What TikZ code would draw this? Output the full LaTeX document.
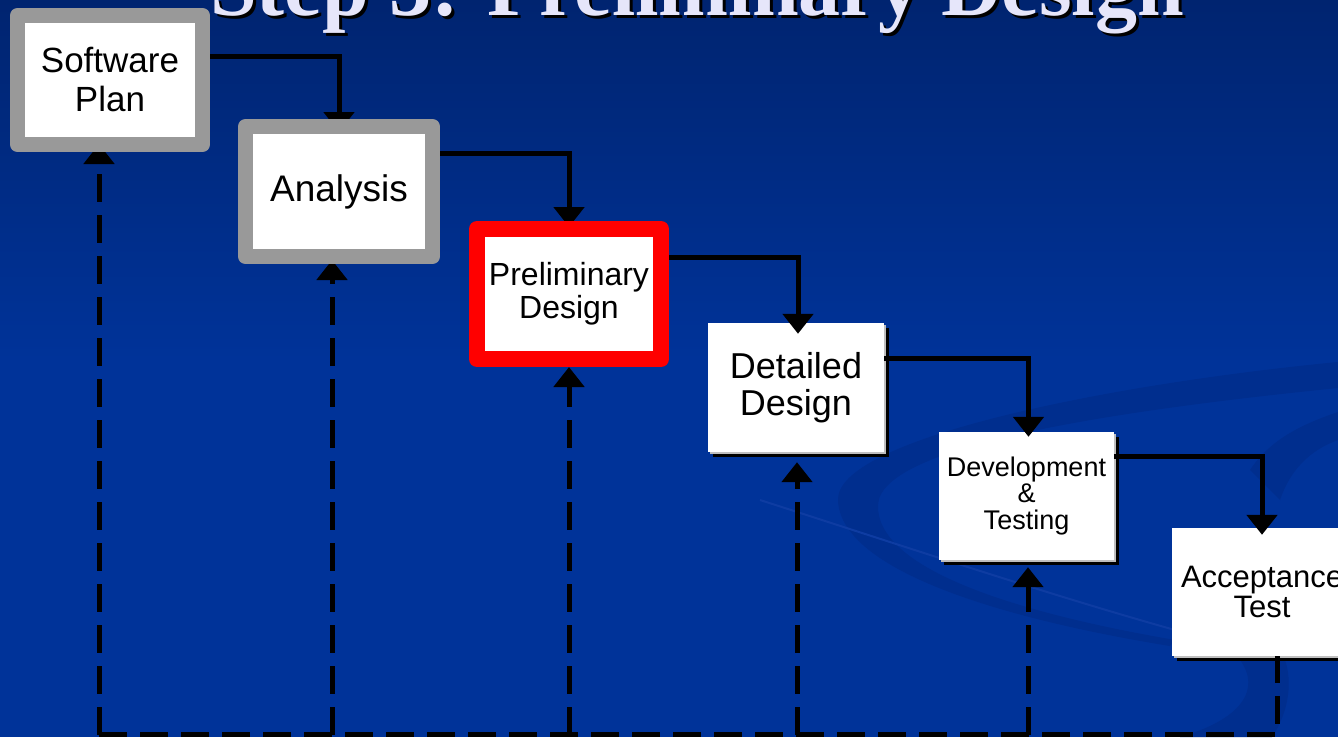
\documentclass[tikz,border=0pt]{standalone}
\usepackage{fontspec}
\setmainfont{Liberation Sans}
\newfontfamily\titlefont{Liberation Serif}
\usetikzlibrary{arrows.meta,shadows}
\pgfdeclarelayer{bg}
\pgfdeclarelayer{background}
\pgfsetlayers{bg,background,main}
\definecolor{bgtop}{RGB}{0,36,112}
\definecolor{bgbot}{RGB}{0,51,153}
\definecolor{swdark}{RGB}{0,46,142}
\definecolor{swlight}{RGB}{14,60,162}
\definecolor{framegray}{RGB}{153,153,153}
\definecolor{titlecol}{RGB}{230,230,250}
\begin{document}
\begin{tikzpicture}[x=1pt,y=-1pt,
  frame/.style={fill=white, line width=15pt, line join=round, inner sep=0pt, align=center},
  whitebox/.style={fill=white, inner sep=0pt, align=center,
    general shadow={fill=black, shadow xshift=5pt, shadow yshift=-5pt},
    general shadow={fill=black!25, shadow xshift=1.5pt, shadow yshift=-1.5pt}},
  flow/.style={line width=5pt, -{Triangle[width=30pt,length=20pt]}},
  fb/.style={line width=5pt, dash pattern=on 27.5pt off 13.5pt, -{Triangle[width=30pt,length=20pt]}},
  fbline/.style={line width=5pt, dash pattern=on 27.5pt off 13.5pt},
]
\useasboundingbox (0,0) rectangle (1338,737);
\clip (0,0) rectangle (1338,737);

% background
\begin{pgfonlayer}{bg}
\shade[top color=bgtop, bottom color=bgbot] (0,0) rectangle (1338,360);
\fill[bgbot] (0,359) rectangle (1338,737);
\fill[swdark] (838,500) .. controls (836,440) and (1100,385) .. (1338,362)
  -- (1338,388) .. controls (1120,410) and (880,445) .. (878,505)
  .. controls (876,565) and (1000,610) .. (1175,640)
  -- (1170,646) .. controls (980,615) and (840,565) .. (838,500) -- cycle;
\fill[swdark] (1240,660) .. controls (1262,690) and (1240,720) .. (1180,737)
  -- (1272,737) .. controls (1290,710) and (1292,680) .. (1285,660) -- cycle;
\fill[swdark] (1250,470) .. controls (1270,440) and (1300,425) .. (1338,412)
  -- (1338,440) .. controls (1310,450) and (1290,470) .. (1280,500) -- cycle;
\draw[swlight, line width=2pt] (760,500) .. controls (900,545) and (1050,595) .. (1175,630);
\end{pgfonlayer}

% title
\node[anchor=base, text=black, font=\titlefont\bfseries\fontsize{84}{84}\selectfont] (titleshadow) at (700,18) {Step 3: Preliminary Design};
\node[anchor=base, text=titlecol, font=\titlefont\bfseries\fontsize{84}{84}\selectfont] (title) at (697,15) {Step 3: Preliminary Design};

% boxes
\node[frame, draw=framegray, minimum width=185pt, minimum height=129pt,
  font=\fontsize{35}{39}\selectfont] (sp) at (110,80) {Software\\Plan};
\node[frame, draw=framegray, minimum width=187pt, minimum height=130pt,
  font=\fontsize{37}{40}\selectfont] (an) at (339,191.5) {Analysis};
\node[frame, draw=red, line width=16pt, minimum width=184pt, minimum height=130pt,
  font=\fontsize{32}{33}\selectfont] (pd) at (569,294) {Preliminary\\Design};
\node[whitebox, minimum width=176pt, minimum height=129pt,
  font=\fontsize{36}{37}\selectfont] (dd) at (796,387.5) {Detailed\\Design};
\node[whitebox, minimum width=175pt, minimum height=128pt,
  font=\fontsize{27}{26.5}\selectfont] (dt) at (1026.5,496) {Development\\\&\\Testing};
\node[whitebox, minimum width=180pt, minimum height=128pt,
  font=\fontsize{31}{30}\selectfont] (at) at (1262,592) {Acceptance\\Test};

% forward flow
\begin{pgfonlayer}{background}
\draw[flow, shorten >=-13pt] ([yshift=24pt]sp.east) -| (an.north);
\draw[flow, shorten >=-6pt] ([yshift=38.5pt]an.east) -| (pd.north);
\end{pgfonlayer}
\draw[flow, shorten >=-11pt] ([yshift=37pt]pd.east) -| ([xshift=2pt]dd.north);
\draw[flow, shorten >=-5pt] ([yshift=29.5pt]dd.east) -| ([xshift=2pt]dt.north);
\draw[flow, shorten >=-7pt] ([yshift=40pt]dt.east) -| (at.north);

% feedback
\coordinate (b1) at (99,734.5);
\coordinate (b2) at (332,734.5);
\coordinate (b3) at (569,734.5);
\coordinate (b4) at (797,734.5);
\coordinate (b5) at (1028,734.5);
\coordinate (b6) at (1277,734.5);
\begin{pgfonlayer}{background}
\draw[fb, shorten >=-8pt] (b1) -- (b1 |- sp.south);
\draw[fb, shorten >=-4pt] (b2) -- (b2 |- an.south);
\end{pgfonlayer}
\draw[fb] (b3) -- (b3 |- pd.south);
\draw[fb, shorten >=10pt] (b4) -- (b4 |- dd.south);
\draw[fb, shorten >=7pt] (b5) -- (b5 |- dt.south);
\draw[fbline] (b1) -- (b6) -- (b6 |- at.south);
\end{tikzpicture}
\end{document}
